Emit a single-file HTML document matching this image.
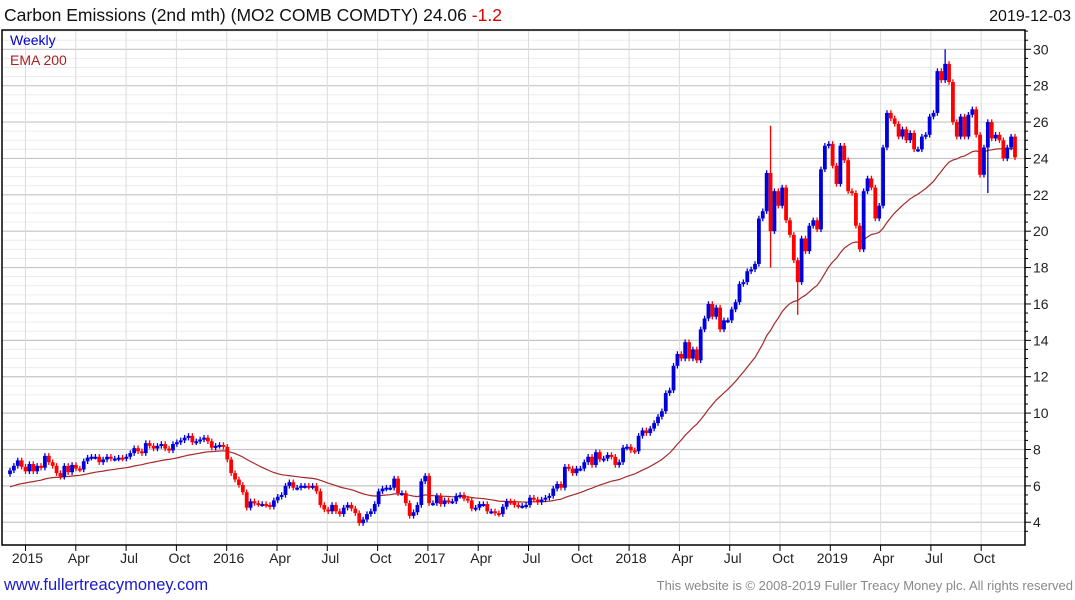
<!DOCTYPE html>
<html><head><meta charset="utf-8"><style>
body{margin:0;background:#fff;width:1075px;height:600px;overflow:hidden;font-family:"Liberation Sans",sans-serif}
svg{display:block}
</style></head><body>
<svg id="chart" width="1075" height="600">
<text x="4" y="21" font-size="17.5" fill="#111">Carbon Emissions (2nd mth) (MO2 COMB COMDTY) 24.06 <tspan fill="#e00000">-1.2</tspan></text>
<text x="1071" y="21" font-size="16" fill="#111" text-anchor="end">2019-12-03</text>
<g id="grid"></g>
<g id="ema"></g>
<g id="candles"></g>
<rect x="2" y="30" width="1023" height="515" fill="none" stroke="#000" stroke-width="1.5"/>
<g id="axes"></g>
<text x="10" y="45" font-size="14" fill="#0000cc">Weekly</text>
<text x="10" y="65" font-size="14" fill="#aa2222">EMA 200</text>
<text x="4" y="590" font-size="16.5" fill="#1a1acc">www.fullertreacymoney.com</text>
<text x="1073" y="590" font-size="13" fill="#888" text-anchor="end">This website is © 2008-2019 Fuller Treacy Money plc. All rights reserved</text>
</svg>
<script>
const closes=[6.85,7.1,7.4,7.05,6.8,7.2,6.8,7.1,7.0,7.65,7.3,7.1,6.7,6.5,7.1,6.75,7.15,6.95,6.9,7.35,7.55,7.6,7.6,7.3,7.45,7.6,7.5,7.5,7.55,7.5,7.6,7.8,8.07,7.9,7.8,8.35,8.2,8.05,8.2,8.3,8.05,7.95,8.3,8.4,8.5,8.65,8.75,8.4,8.45,8.55,8.65,8.45,8.1,8.2,8.25,8.15,7.45,6.7,6.35,6.05,
5.65,4.8,5.15,5.05,5.0,5.0,4.95,4.85,5.2,5.4,5.5,6.0,6.2,5.9,5.9,6.0,6.0,5.95,6.0,5.7,4.95,4.7,4.6,4.95,4.6,4.45,4.8,4.95,4.75,4.5,3.95,4.15,4.45,4.6,5.0,5.7,5.85,5.9,5.9,6.4,5.6,5.6,5.05,4.35,4.55,4.95,6.25,6.55,5.05,5.05,5.45,5.0,5.2,5.15,5.15,5.45,5.5,5.3,5.2,4.75,4.8,5.0,5.0,4.6,4.6,4.5,4.45,4.85,5.15,5.1,4.95,4.9,4.9,4.95,5.35,5.25,5.1,5.25,5.35,5.45,5.85,6.1,5.9,
7.05,6.95,6.7,6.95,6.95,7.3,7.6,7.15,7.85,7.45,7.5,7.7,7.6,7.15,7.3,8.1,8.15,7.95,7.9,8.75,9.05,8.9,9.15,9.45,9.8,10.1,11.1,11.25,12.6,13.25,13.0,13.9,13.0,13.5,12.9,14.6,15.2,16.0,15.3,15.8,14.6,15.1,15.1,15.7,16.1,17.1,17.2,17.8,17.9,18.2,20.7,21.1,23.2,20.0,22.2,21.4,22.4,20.6,19.8,18.4,17.2,19.6,18.9,20.3,20.6,20.1,23.4,24.7,24.8,23.6,22.6,24.7,23.9,22.2,22.1,20.3,19.0,22.2,22.9,22.4,20.7,21.4,24.6,26.5,26.2,25.9,25.2,25.6,25.0,25.4,24.5,24.5,25.2,25.3,26.3,26.5,28.8,28.3,29.2,28.2,26.0,25.2,26.3,25.2,26.4,26.7,25.3,23.1,24.6,26.0,25.1,25.3,25.0,24.0,24.6,25.2,24.06];
const firstOpen=6.65;
const spikeWeeks=[196,203,241,252];
const spikeHighs=[25.8,null,30.0,null];
const spikeLows=[18.0,15.4,null,22.1];
const emaSeed=5.95;
const emaPeriod=40;
const yTicks=[4,6,8,10,12,14,16,18,20,22,24,26,28,30];
const xLabels=["2015","Apr","Jul","Oct","2016","Apr","Jul","Oct","2017","Apr","Jul","Oct","2018","Apr","Jul","Oct","2019","Apr","Jul","Oct"];

const NS="http://www.w3.org/2000/svg";
const L=2,R=1025,T=30,B=545;
const y=v=>49.3+(30-v)*18.19;
const x=i=>10+i*(1005/(closes.length-1));
const qx=k=>25.5+50.3*k;
function mk(tag,attrs,parent){const e=document.createElementNS(NS,tag);for(const k in attrs)e.setAttribute(k,attrs[k]);parent.appendChild(e);return e;}
const grid=document.getElementById('grid'),axes=document.getElementById('axes');
for(let v=3.5;v<=31;v+=0.5){const yy=y(v);if(yy<T||yy>B)continue;const major=Math.abs(v%2)<1e-9;
 const ln=mk('line',{x1:L,x2:R,y1:yy,y2:yy,stroke:major?'#c4c4c4':'#ececec','stroke-width':major?1.2:1},grid);
 
 
 const tk=mk('line',{x1:R,x2:R+(major?6:3),y1:yy,y2:yy,stroke:'#000'},axes);
 
 }
yTicks.forEach(v=>{const t=mk('text',{x:R+8,y:y(v)+5,'font-size':14,fill:'#222'},axes);t.textContent=v;
 
 });
xLabels.forEach((s,k)=>{const xx=qx(k);
 const g=mk('line',{x1:xx,x2:xx,y1:T,y2:B,stroke:'#dcdcdc'},grid);
 
 
 const tk=mk('line',{x1:xx,x2:xx,y1:B,y2:B+6,stroke:'#000'},axes);
 
 
 const t=mk('text',{x:xx+(s.length===4?2:3),y:B+18,'font-size':14,fill:'#222','text-anchor':'middle'},axes);t.textContent=s;
 
 });
const cg=document.getElementById('candles');
closes.forEach((c,i)=>{const o=i?closes[i-1]:firstOpen;let hi=Math.max(o,c)+0.15,lo=Math.min(o,c)-0.15;
 const si=spikeWeeks.indexOf(i);if(si>=0){if(spikeHighs[si]!=null)hi=spikeHighs[si];if(spikeLows[si]!=null)lo=spikeLows[si];}
 const col=c>=o?'#0000dd':'#ff0000';const xx=x(i);
 const w=mk('line',{x1:xx,x2:xx,y1:y(hi),y2:y(lo),stroke:col,'stroke-width':1.3},cg);
 
 
 const top=y(Math.max(o,c)),h=Math.max(2,y(Math.min(o,c))-top);
 const b=mk('rect',{x:xx-1.9,y:top,width:3.8,height:h,fill:col},cg);
 
 });
let e=emaSeed;const a=2/(emaPeriod+1);let d='';
closes.forEach((c,i)=>{if(i)e=e+a*(c-e);d+=(i?'L':'M')+x(i).toFixed(1)+','+y(e).toFixed(1);});
const p=mk('path',{d:d,fill:'none',stroke:'#a52a2a','stroke-width':1.2},document.getElementById('ema'));


</script>
</body></html>
